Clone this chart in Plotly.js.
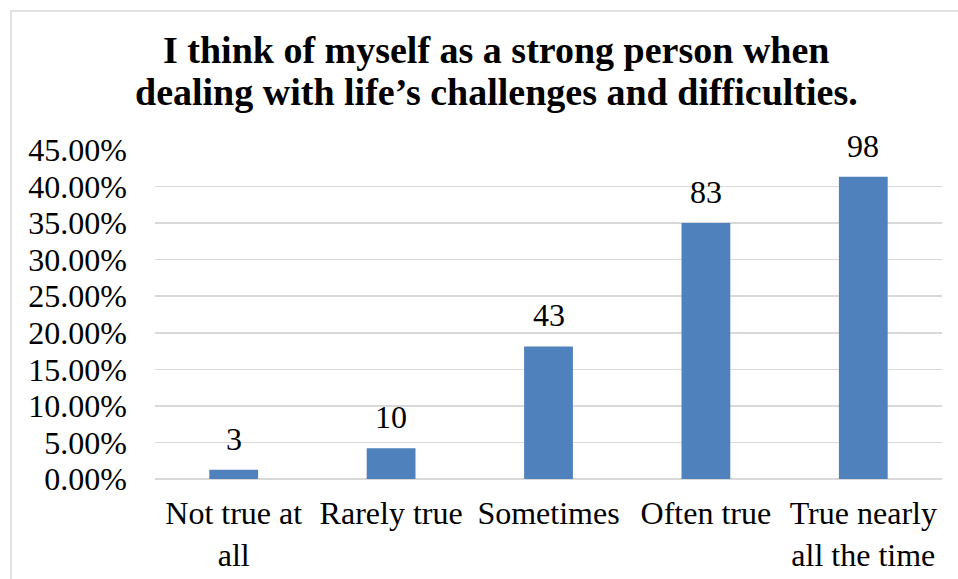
<!DOCTYPE html>
<html>
<head>
<meta charset="utf-8">
<script src="https://cdn.plot.ly/plotly-3.0.1.min.js"></script>
<style>html,body{margin:0;padding:0;background:#fff;} #chart{width:958px;height:579px;}</style>
</head>
<body>
<div id="chart"></div>
<script>
const categories = ["Not true at<br>all", "Rarely true", "Sometimes", "Often true", "True nearly<br>all the time"];
const shares = [0.0127, 0.0422, 0.1814, 0.3502, 0.4135];
const counts = [3, 10, 43, 83, 98];
const titleLines = ["I think of myself as a strong person when", "dealing with life’s challenges and difficulties."];

const FONT = "Liberation Serif";
const L = 155, R = 16, T = 150, B = 100;
const W = 958, H = 579;
const pw = W - L - R, ph = H - T - B;

const annotations = counts.map((c, i) => ({
  x: categories[i], y: shares[i], xref: 'x', yref: 'y',
  text: String(c), showarrow: false, yanchor: 'bottom', yshift: 11,
  font: {family: FONT, size: 32, color: '#000'}
}));
const titleBase = [64, 106];
titleLines.forEach((t, i) => annotations.push({
  x: (496 - L) / pw, xref: 'paper', y: (479 - titleBase[i]) / ph, yref: 'paper',
  text: '<b>' + t + '</b>', showarrow: false, xanchor: 'center', yanchor: 'bottom',
  yshift: -9, font: {family: FONT, size: 38, color: '#000'}
}));

const data = [{
  type: 'bar', x: categories, y: shares,
  marker: {color: '#4F81BD'}, hoverinfo: 'none'
}];

const layout = {
  width: W, height: H,
  margin: {l: L, r: R, t: T, b: B, pad: 0},
  paper_bgcolor: '#fff', plot_bgcolor: '#fff',
  showlegend: false, bargap: 0.69,
  font: {family: FONT, color: '#000', size: 32},
  xaxis: {
    type: 'category', showgrid: false, zeroline: false, showline: false,
    ticks: '', ticklabelstandoff: 12,
    tickfont: {family: FONT, size: 32, color: '#000'}
  },
  yaxis: {
    range: [0, 0.45], dtick: 0.05, tick0: 0, tickformat: '.2%',
    showgrid: true, gridcolor: '#d9d9d9', gridwidth: 1.5,
    zeroline: true, zerolinecolor: '#d9d9d9', zerolinewidth: 1.5,
    showline: false, ticks: '', ticklabelstandoff: 27,
    tickfont: {family: FONT, size: 32, color: '#000'}
  },
  annotations: annotations,
  shapes: [{
    type: 'rect', xref: 'paper', yref: 'paper', layer: 'below',
    x0: (11 - L) / pw, x1: (W + 5 - L) / pw,
    y0: (479 - 11) / ph, y1: (479 - H - 5) / ph,
    line: {color: '#d9d9d9', width: 1.5}, fillcolor: 'rgba(0,0,0,0)'
  }]
};

Plotly.newPlot('chart', data, layout, {displayModeBar: false, staticPlot: true});
</script>
</body>
</html>
